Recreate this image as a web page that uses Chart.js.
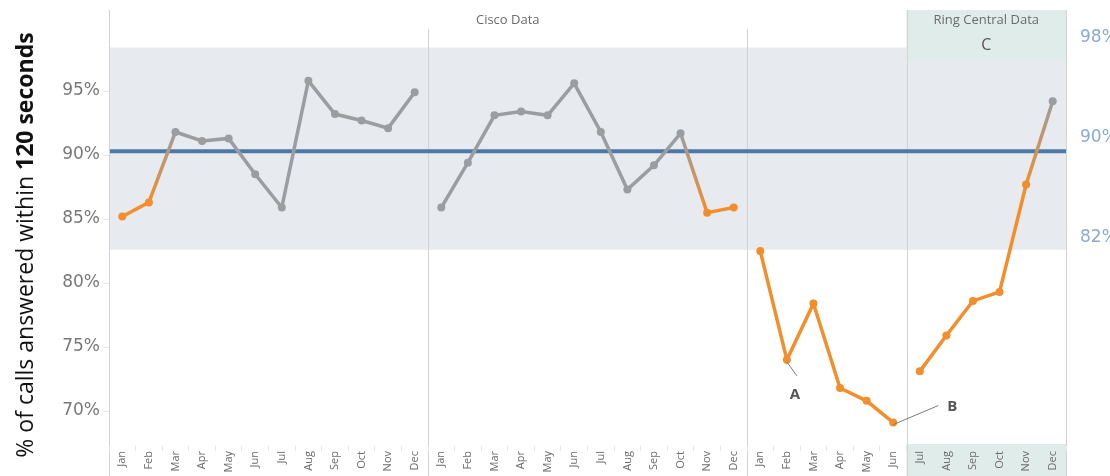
<!DOCTYPE html>
<html>
<head>
<meta charset="utf-8">
<script src="https://cdn.jsdelivr.net/npm/chart.js@4.4.1/dist/chart.umd.min.js"></script>
<style>
  html, body { margin: 0; padding: 0; background: #fff; }
  #wrap { width: 1110px; height: 476px; }
</style>
</head>
<body>
<div id="wrap"><canvas id="chart" width="1110" height="476"></canvas></div>
<script>
// monthly % of calls answered within 120 seconds
const months = ['Jan', 'Feb', 'Mar', 'Apr', 'May', 'Jun', 'Jul', 'Aug', 'Sep', 'Oct', 'Nov', 'Dec'];
const labels = [...months, ...months, ...months];

const cisco2019 = [85.2, 86.3, 91.8, 91.1, 91.3, 88.5, 85.9, 95.8, 93.2, 92.7, 92.1, 94.9];
const cisco2020 = [85.9, 89.4, 93.1, 93.4, 93.1, 95.6, 91.8, 87.3, 89.2, 91.7, 85.5, 85.9];
const cisco2021 = [82.5, 74.0, 78.4, 71.8, 70.8, 69.1];   // Jan - Jun
const ring2021 = [73.1, 75.9, 78.6, 79.3, 87.7, 94.2];    // Jul - Dec

// 1 = flagged (orange), 0 = normal (grey)
const flagged = [
  1, 1, 0, 0, 0, 0, 0, 0, 0, 0, 0, 0,
  0, 0, 0, 0, 0, 0, 0, 0, 0, 0, 1, 1,
  1, 1, 1, 1, 1, 1, 1, 1, 1, 1, 1, 0
];

// reference lines
const meanLine = 90.3;
const bandUpper = 98.4;
const bandLower = 82.6;
const leftTicks = [70, 75, 80, 85, 90, 95];
const rightTicks = [82, 90, 98];

const ORANGE = '#f28e2b';
const GREY = '#9b9da0';
const AXIS_FONT = '"DejaVu Sans", sans-serif';

function pad(values, start) {
  const out = new Array(labels.length).fill(null);
  values.forEach((v, i) => { out[start + i] = v; });
  return out;
}

function colorAt(i) {
  return flagged[i] ? ORANGE : GREY;
}

function segColor(c) {
  const a = colorAt(c.p0DataIndex), b = colorAt(c.p1DataIndex);
  if (a === b) return a;
  const g = c.chart.ctx.createLinearGradient(c.p0.x, c.p0.y, c.p1.x, c.p1.y);
  g.addColorStop(0, a);
  g.addColorStop(1, b);
  return g;
}

function series(data) {
  return {
    data: data,
    yAxisID: 'y',
    borderWidth: 3.5,
    tension: 0,
    spanGaps: false,
    pointRadius: 4,
    pointHoverRadius: 4,
    pointBorderWidth: 0,
    pointBackgroundColor: c => colorAt(c.dataIndex),
    pointBorderColor: c => colorAt(c.dataIndex),
    borderColor: GREY,
    segment: { borderColor: segColor }
  };
}

// x position of the boundary between category i and i+1
function between(x, i) {
  return (x.getPixelForValue(i) + x.getPixelForValue(i + 1)) / 2;
}

function noPad(s) {
  s.paddingTop = 0;
  s.paddingBottom = 0;
}

const backdrop = {
  id: 'backdrop',
  beforeDraw(chart) {
    const { ctx, chartArea: a, scales: { x, y } } = chart;
    const ringLeft = between(x, 29);
    ctx.save();
    // control band
    const yt = y.getPixelForValue(bandUpper), yb = y.getPixelForValue(bandLower);
    ctx.fillStyle = '#e7ebef';
    ctx.fillRect(a.left, yt, a.right - a.left, yb - yt);
    // ring central header + bottom strip
    ctx.fillStyle = '#e0ece9';
    ctx.fillRect(ringLeft, a.top, a.right - ringLeft, 51);
    ctx.fillRect(ringLeft, a.bottom - 2, a.right - ringLeft, chart.height - a.bottom + 2);
    // panel separators
    ctx.strokeStyle = '#d3d3d3';
    ctx.lineWidth = 1;
    const lines = [
      [a.left, a.top], [between(x, 11), a.top + 19], [between(x, 23), a.top + 19],
      [ringLeft, a.top], [a.right, a.top]
    ];
    lines.forEach(([lx, ly]) => {
      ctx.beginPath();
      ctx.moveTo(Math.round(lx) + 0.5, ly);
      ctx.lineTo(Math.round(lx) + 0.5, chart.height);
      ctx.stroke();
    });
    // mean line
    const ym = y.getPixelForValue(meanLine);
    ctx.strokeStyle = '#4e79a7';
    ctx.lineWidth = 4;
    ctx.beginPath();
    ctx.moveTo(a.left + 1, ym);
    ctx.lineTo(a.right, ym);
    ctx.stroke();
    ctx.restore();
  }
};

const notes = {
  id: 'notes',
  afterDraw(chart) {
    const { ctx, chartArea: a, scales: { x } } = chart;
    const ringLeft = between(x, 29);
    ctx.save();
    // headers
    ctx.fillStyle = '#6b6b6b';
    ctx.font = '13px "Open Sans", sans-serif';
    ctx.textAlign = 'center';
    ctx.textBaseline = 'middle';
    ctx.fillText('Cisco Data', (a.left + ringLeft) / 2, a.top + 10);
    ctx.fillText('Ring Central Data', (ringLeft + a.right) / 2, a.top + 10);
    ctx.fillStyle = '#555';
    ctx.font = '16px "Open Sans", sans-serif';
    ctx.fillText('C', (ringLeft + a.right) / 2, a.top + 35);

    // callouts A and B
    const feb = chart.getDatasetMeta(2).data[25];
    const jun = chart.getDatasetMeta(2).data[29];
    ctx.strokeStyle = '#7a7a7a';
    ctx.lineWidth = 1;
    ctx.beginPath();
    ctx.moveTo(feb.x, feb.y + 2);
    ctx.lineTo(feb.x + 10, feb.y + 16);
    ctx.moveTo(jun.x, jun.y + 2);
    ctx.lineTo(jun.x + 45, jun.y - 17);
    ctx.stroke();
    ctx.fillStyle = '#555';
    ctx.font = 'bold 15px "Open Sans", sans-serif';
    ctx.fillText('A', feb.x + 8, feb.y + 35);
    ctx.fillText('B', jun.x + 59, jun.y - 16);

    // y axis title, mixed weight
    const part1 = '% of calls answered within ';
    const part2 = '120 seconds';
    const f1 = '23px "Open Sans", sans-serif';
    const f2 = 'bold 23px "Open Sans", sans-serif';
    ctx.font = f1;
    const w1 = ctx.measureText(part1).width;
    ctx.font = f2;
    const w2 = ctx.measureText(part2).width;
    ctx.translate(33, 245);
    ctx.rotate(-Math.PI / 2);
    ctx.textAlign = 'left';
    ctx.textBaseline = 'alphabetic';
    ctx.fillStyle = '#111';
    const start = -(w1 + w2) / 2;
    ctx.font = f1;
    ctx.fillText(part1, start, 0);
    ctx.font = f2;
    ctx.fillText(part2, start + w1, 0);
    ctx.restore();
  }
};

new Chart(document.getElementById('chart'), {
  type: 'line',
  data: {
    labels: labels,
    datasets: [
      series(pad(cisco2019, 0)),
      series(pad(cisco2020, 12)),
      series(pad(cisco2021, 24)),
      series(pad(ring2021, 30))
    ]
  },
  options: {
    responsive: false,
    animation: false,
    devicePixelRatio: 1,
    layout: { padding: { top: 10, left: 0, right: 0, bottom: 0 } },
    plugins: { legend: { display: false }, tooltip: { enabled: false } },
    scales: {
      x: {
        type: 'category',
        offset: true,
        border: { display: false },
        grid: { display: true, drawOnChartArea: false, drawTicks: true, tickLength: 5, offset: true, color: '#e6e6e6' },
        ticks: {
          autoSkip: false, maxRotation: 90, minRotation: 90, padding: 0,
          color: '#6b6b6b', font: { family: '"Open Sans", sans-serif', size: 11 }
        },
        afterFit(s) { s.height = 30; s.paddingLeft = 0; s.paddingRight = 0; }
      },
      y: {
        position: 'left',
        min: 67.27,
        max: 101.33,
        border: { display: false },
        grid: { display: true, drawOnChartArea: false, drawTicks: true, tickLength: 6, color: '#e8e8e8' },
        afterBuildTicks(s) { s.ticks = leftTicks.map(v => ({ value: v })); },
        ticks: {
          padding: 3, color: '#787878',
          font: { family: AXIS_FONT, size: 17 },
          callback: v => v + '%'
        },
        afterFit(s) { s.width = 109; noPad(s); }
      },
      y2: {
        position: 'right',
        min: 65.36,
        max: 100.24,
        border: { display: false },
        grid: { display: false, drawTicks: false },
        afterBuildTicks(s) { s.ticks = rightTicks.map(v => ({ value: v })); },
        ticks: {
          padding: 14, color: '#8aaad0',
          font: { family: AXIS_FONT, size: 17 },
          callback: v => v + '%'
        },
        afterFit(s) { s.width = 44; noPad(s); }
      }
    }
  },
  plugins: [backdrop, notes]
});
</script>
</body>
</html>
